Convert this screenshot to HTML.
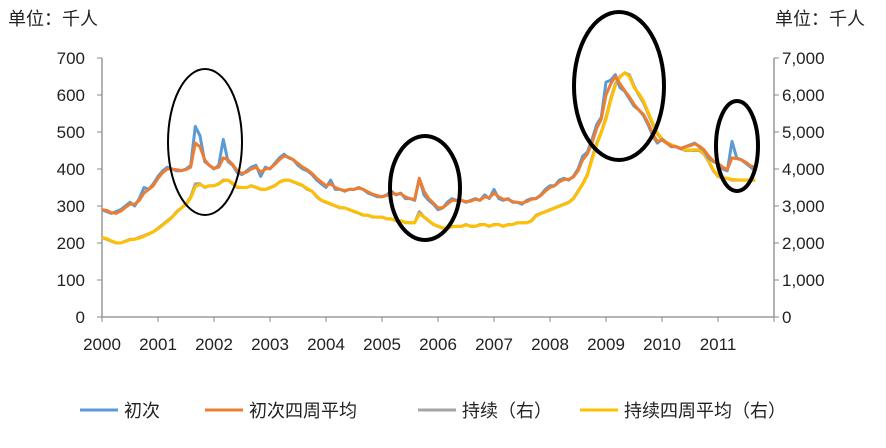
<!DOCTYPE html>
<html><head><meta charset="utf-8"><style>
body{margin:0;background:#fff;}
svg text{font-family:"Liberation Sans","Noto Sans CJK SC",sans-serif;fill:#222;}
</style></head><body>
<svg width="886" height="443" id="c">
<text x="8" y="25" font-size="18">单位：千人</text>
<text x="775" y="25" font-size="18">单位：千人</text>
<g id="axes"></g><g id="series"></g><g id="anno"></g><g id="legend"></g>
</svg>
<script>
const yearLabels=["2000","2001","2002","2003","2004","2005","2006","2007","2008","2009","2010","2011"];
const leftTicks=[0,100,200,300,400,500,600,700];
const rightTicks=["0","1,000","2,000","3,000","4,000","5,000","6,000","7,000"];
const initial=[290,285,280,285,290,300,310,300,320,350,345,360,
380,395,405,400,395,395,400,410,515,490,420,410,
400,410,480,420,410,390,385,395,405,410,380,405,
400,415,430,440,430,425,410,400,395,385,370,360,
350,370,345,345,340,345,345,350,345,335,330,325,
325,330,340,330,335,320,320,315,375,330,315,305,
290,295,310,320,315,315,310,315,320,315,330,320,
345,320,315,320,310,310,305,315,320,320,330,345,
355,355,370,375,370,380,400,435,445,480,520,540,
635,640,655,620,610,590,570,560,545,520,490,470,
480,470,460,460,455,460,465,470,460,450,430,420,
415,400,395,475,430,425,415,405,395];
const initialAvg=[290,288,282,280,286,296,305,305,315,335,345,355,
375,390,400,400,398,396,398,405,470,460,425,410,
402,405,430,425,412,395,388,392,400,405,392,400,
402,412,425,435,432,425,415,405,398,388,375,365,
355,360,350,345,342,345,345,348,345,338,332,328,
325,328,335,332,333,325,320,318,375,340,320,308,
295,295,305,315,315,315,312,313,318,316,325,322,
335,325,318,318,312,310,308,312,318,320,328,340,
350,355,365,372,372,378,395,425,440,470,510,535,
600,630,650,630,612,595,575,560,548,525,495,475,
478,470,462,460,456,460,463,468,462,452,435,422,
415,405,398,430,428,425,418,408,405];
const continuing=[2150,2100,2050,2000,2000,2050,2100,2100,2150,2200,2250,2300,
2400,2500,2600,2700,2850,2950,3050,3250,3600,3600,3500,3550,
3550,3600,3700,3700,3600,3500,3500,3500,3550,3500,3450,3450,
3500,3550,3650,3700,3700,3650,3600,3550,3450,3400,3250,3150,
3100,3050,3000,2950,2950,2900,2850,2800,2750,2750,2700,2700,
2700,2650,2650,2600,2600,2550,2550,2550,2850,2700,2600,2500,
2450,2400,2400,2450,2450,2450,2500,2450,2450,2500,2500,2450,
2500,2500,2450,2500,2500,2550,2550,2550,2600,2750,2800,2850,
2900,2950,3000,3050,3100,3200,3400,3600,3850,4300,4700,5000,
5400,5900,6300,6500,6600,6550,6250,6000,5800,5500,5200,4950,
4800,4700,4650,4600,4550,4500,4500,4500,4500,4400,4200,3950,
3800,3750,3750,3700,3700,3700,3700,3700,3700];
const continuingAvg=[2150,2120,2060,2010,2000,2040,2090,2100,2130,2180,2240,2300,
2380,2480,2580,2690,2830,2940,3040,3220,3520,3580,3520,3540,
3550,3590,3680,3700,3620,3520,3500,3500,3540,3510,3460,3450,
3490,3540,3640,3690,3700,3660,3610,3560,3470,3400,3270,3160,
3110,3060,3010,2960,2950,2900,2860,2810,2760,2750,2710,2700,
2700,2660,2650,2610,2600,2560,2550,2550,2780,2710,2610,2510,
2460,2410,2400,2440,2450,2450,2490,2460,2450,2490,2500,2460,
2490,2500,2460,2490,2500,2540,2550,2550,2590,2730,2790,2840,
2890,2940,2990,3040,3090,3190,3380,3580,3820,4250,4650,4980,
5350,5850,6250,6480,6600,6500,6200,6050,5850,5550,5250,4980,
4820,4720,4660,4610,4560,4520,4510,4520,4520,4420,4220,3980,
3820,3760,3750,3720,3710,3700,3700,3700,3700];
const NS="http://www.w3.org/2000/svg";
const X0=102,PX=56,Y0=317,PYL=0.37,PYR=0.037;
const xs=i=>X0+PX*(i/12);
const yl=v=>Y0-v*PYL;
const yr=v=>Y0-v*PYR;
function mk(t,a,p){const e=document.createElementNS(NS,t);for(const k in a)e.setAttribute(k,a[k]);p.appendChild(e);return e;}
const ax=document.getElementById('axes');
let e=mk('line',{x1:X0,y1:58,x2:X0,y2:Y0,stroke:'#888','stroke-width':1.3},ax);


e=mk('line',{x1:774,y1:58,x2:774,y2:Y0,stroke:'#888','stroke-width':1.3},ax);


e=mk('line',{x1:X0,y1:Y0,x2:774,y2:Y0,stroke:'#888','stroke-width':1.3},ax);


leftTicks.forEach((v,i)=>{
 mk('line',{x1:X0-5,y1:yl(v),x2:X0,y2:yl(v),stroke:'#888'},ax);
 mk('line',{x1:774,y1:yl(v),x2:779,y2:yl(v),stroke:'#888'},ax);
 let t=mk('text',{x:85,y:yl(v)+6,'font-size':17,'text-anchor':'end'},ax);t.textContent=v;
 
 
 t=mk('text',{x:782,y:yl(v)+6,'font-size':17},ax);t.textContent=rightTicks[i];
 
 
});
for(let i=0;i<=12;i++){mk('line',{x1:X0+PX*i,y1:Y0,x2:X0+PX*i,y2:Y0+5,stroke:'#888'},ax);}
yearLabels.forEach((l,i)=>{
 const t=mk('text',{x:X0+PX*i,y:350,'font-size':17,'text-anchor':'middle'},ax);t.textContent=l;
 
 
});
const sg=document.getElementById('series');
function line(data,yf,col,name){
 const d=data.map((v,i)=>(i?'L':'M')+xs(i).toFixed(1)+','+yf(v).toFixed(1)).join('');
 const p=mk('path',{d:d,fill:'none',stroke:col,'stroke-width':3,'stroke-linejoin':'round'},sg);
 
 
}
line(continuing,yr,'#a5a5a5','continuing-line');
line(continuingAvg,yr,'#ffc000','continuing-avg-line');
line(initial,yl,'#5b9bd5','initial-line');
line(initialAvg,yl,'#ed7d31','initial-avg-line');
const an=document.getElementById('anno');
[[205,142,37,73,2],[425,188,35,52,4],[619,86,45,74,4],[737,146,21,45,4]].forEach(a=>{
 const el=mk('ellipse',{cx:a[0],cy:a[1],rx:a[2],ry:a[3],fill:'none',stroke:'#000','stroke-width':a[4]},an);
 
 
});
const lg=document.getElementById('legend');
[[80,'#5b9bd5','初次'],[205,'#ed7d31','初次四周平均'],[418,'#a5a5a5','持续（右）'],[580,'#ffc000','持续四周平均（右）']].forEach(a=>{
 const g=mk('g',{},lg);
 
 
 mk('line',{x1:a[0],y1:410,x2:a[0]+38,y2:410,stroke:a[1],'stroke-width':3},g);
 const t=mk('text',{x:a[0]+44,y:417,'font-size':18},g);t.textContent=a[2];
});
</script>
</body></html>
